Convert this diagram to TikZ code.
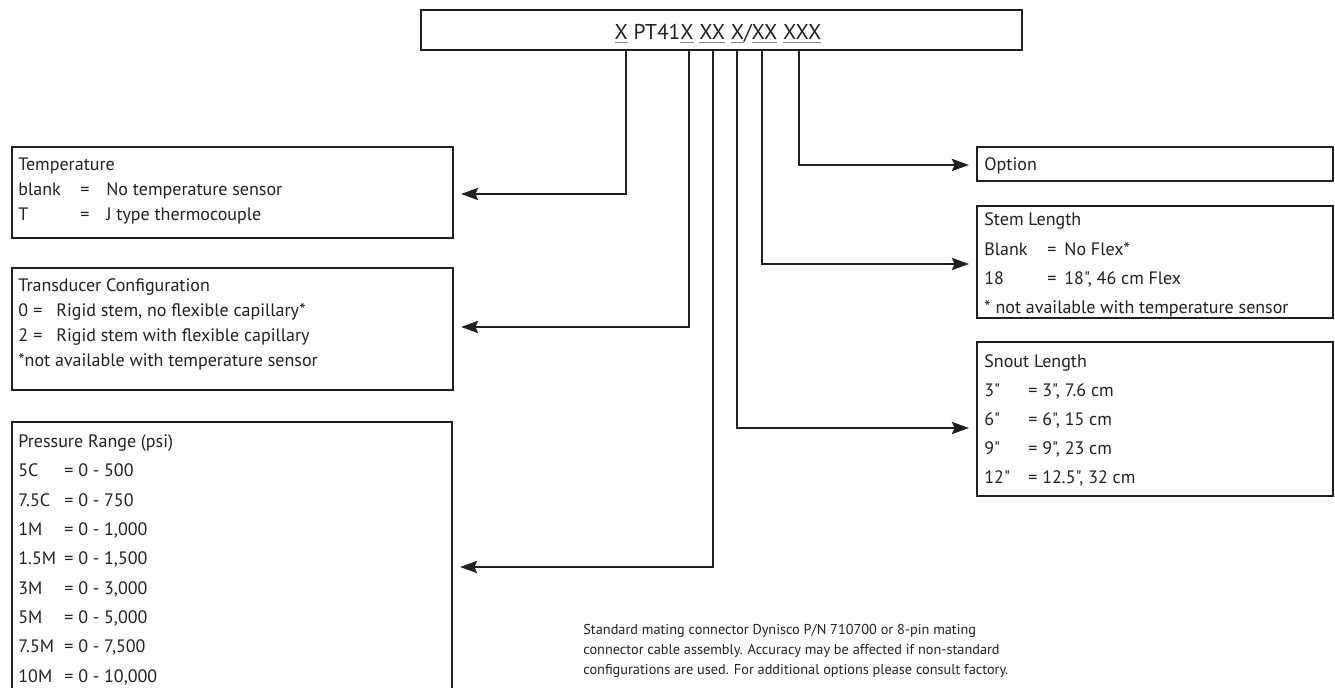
\documentclass[tikz,border=0pt]{standalone}
\usepackage{fontspec}
\setmainfont{PT Sans}[Ligatures=TeXOff]
\usetikzlibrary{arrows.meta}
\definecolor{ink}{HTML}{231F20}
\definecolor{ulgray}{HTML}{8A8A8A}
\newcommand\uln[1]{{\color{ulgray}\underline{\textcolor{ink}{#1}}}}
\begin{document}
\begin{tikzpicture}[x=0.5pt,y=-0.5pt,
  line/.style={draw=ink, line width=1.35pt},
  arr/.style={line, -{Stealth[length=8.5pt,width=6pt,inset=1.3pt]}, shorten >=4pt},
  box/.style={draw=ink, line width=1.35pt, inner sep=0pt, outer sep=0pt, anchor=north west},
  txt/.style={anchor=base west, inner sep=0pt, text=ink, font=\fontsize{9}{11}\selectfont},
  note/.style={anchor=base west, inner sep=0pt, text=ink, font=\fontsize{7.15}{10}\selectfont},
]
\useasboundingbox (0,0) rectangle (1335,688);

% boxes
\node[box, minimum width=300.5pt, minimum height=20pt] (code) at (421,10) {};
\node[box, minimum width=220.5pt, minimum height=45.5pt] (temp) at (12,147) {};
\node[box, minimum width=220.5pt, minimum height=61pt] (trans) at (12,268) {};
\node[box, minimum width=220pt, minimum height=137pt] (press) at (12,422) {};
\node[box, minimum width=178pt, minimum height=17pt] (opt) at (977,147) {};
\node[box, minimum width=178pt, minimum height=56pt] (stem) at (977,206) {};
\node[box, minimum width=178pt, minimum height=77pt] (snout) at (977,342) {};

% code label
\node[anchor=base, inner sep=0pt, text=ink, font=\fontsize{10.7}{12}\selectfont] (lbl) at (718,40)
  {\uln{X} PT41\uln{X} \uln{XX} \uln{X}/\uln{XX} \uln{XXX}};

% tap points
\coordinate (t1) at (code.south -| 626,0);
\coordinate (t2) at (code.south -| 689,0);
\coordinate (t3) at (code.south -| 713,0);
\coordinate (t4) at (code.south -| 737,0);
\coordinate (t5) at (code.south -| 762,0);
\coordinate (t6) at (code.south -| 799,0);

% connectors
\draw[arr] (t1) |- (temp.east |- 0,194);
\draw[arr] (t2) |- (trans.east |- 0,327);
\draw[arr] (t3) |- (press.east |- 0,567);
\draw[arr] (t6) |- (opt.west |- 0,165);
\draw[arr] (t5) |- (stem.west |- 0,264);
\draw[arr] (t4) |- (snout.west |- 0,428);

% temperature
\node[txt] (tp0) at (18,171) {Temperature};
\node[txt] (tp1) at (18,196) {\makebox[31pt][l]{blank}\makebox[13pt][l]{=}No temperature sensor};
\node[txt] (tp2) at (18,221) {\makebox[31pt][l]{T}\makebox[13pt][l]{=}J type thermocouple};

% transducer
\node[txt] (tr0) at (18,292) {Transducer Configuration};
\node[txt] (tr1) at (18,317) {\makebox[7.5pt][l]{0}\makebox[11.5pt][l]{=}Rigid stem, no flexible capillary*};
\node[txt] (tr2) at (18,342) {\makebox[7.5pt][l]{2}\makebox[11.5pt][l]{=}Rigid stem with flexible capillary};
\node[txt] (tr3) at (18,367) {*not available with temperature sensor};

% pressure
\node[txt] (pr0) at (18,448) {Pressure Range (psi)};
\node[txt] (pr1) at (18,477) {\makebox[23pt][l]{5C}= 0 - 500};
\node[txt] (pr2) at (18,507) {\makebox[23pt][l]{7.5C}= 0 - 750};
\node[txt] (pr3) at (18,536) {\makebox[23pt][l]{1M}= 0 - 1,000};
\node[txt] (pr4) at (18,565) {\makebox[23pt][l]{1.5M}= 0 - 1,500};
\node[txt] (pr5) at (18,595) {\makebox[23pt][l]{3M}= 0 - 3,000};
\node[txt] (pr6) at (18,624) {\makebox[23pt][l]{5M}= 0 - 5,000};
\node[txt] (pr7) at (18,653) {\makebox[23pt][l]{7.5M}= 0 - 7,500};
\node[txt] (pr8) at (18,683) {\makebox[23pt][l]{10M}= 0 - 10,000};

% option
\node[txt] (op0) at (984,171) {Option};

% stem
\node[txt] (st0) at (984,226) {Stem Length};
\node[txt] (st1) at (984,256) {\makebox[31.5pt][l]{Blank}\makebox[8.5pt][l]{=}No Flex*};
\node[txt] (st2) at (984,285) {\makebox[31.5pt][l]{18}\makebox[8.5pt][l]{=}18", 46 cm Flex};
\node[txt] (st3) at (984,314) {* not available with temperature sensor};

% snout
\node[txt] (sn0) at (984,368) {Snout Length};
\node[txt] (sn1) at (984,397) {\makebox[22pt][l]{3"}= 3", 7.6 cm};
\node[txt] (sn2) at (984,426) {\makebox[22pt][l]{6"}= 6", 15 cm};
\node[txt] (sn3) at (984,455) {\makebox[22pt][l]{9"}= 9", 23 cm};
\node[txt] (sn4) at (984,484) {\makebox[22pt][l]{12"}= 12.5", 32 cm};

% note
\node[note] (n1) at (583,635) {Standard mating connector Dynisco P/N 710700 or 8-pin mating};
\node[note] (n2) at (583,655) {connector cable assembly. Accuracy may be affected if non-standard};
\node[note] (n3) at (583,675) {configurations are used. For additional options please consult factory.};
\end{tikzpicture}
\end{document}
